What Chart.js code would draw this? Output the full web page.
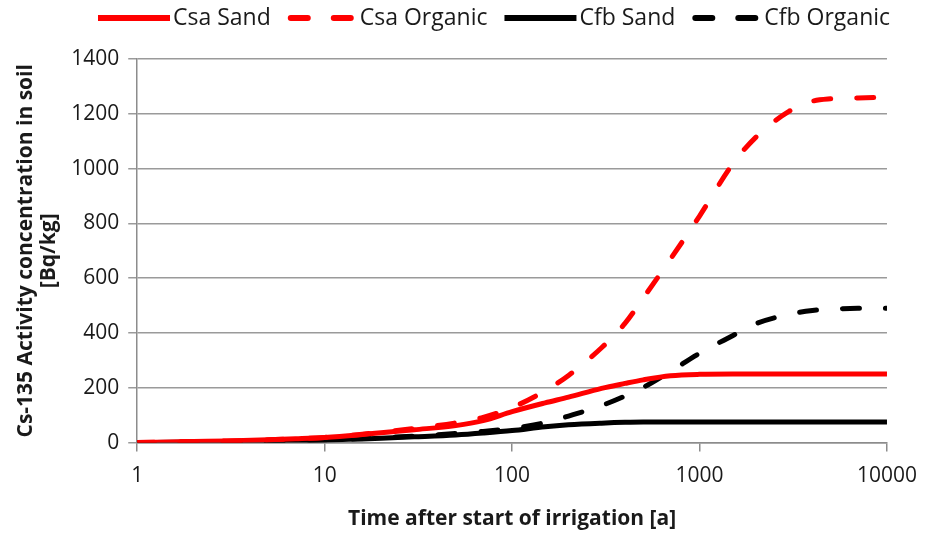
<!DOCTYPE html>
<html lang="en">
<head>
    <meta charset="UTF-8">
    <title>Cs-135 in soil</title>
    <script src="https://cdn.jsdelivr.net/npm/chart.js@4.4.0/dist/chart.umd.min.js"></script>
    <style>
        html, body { margin: 0; padding: 0; background: #fff; }
        #wrap { width: 929px; height: 533px; }
    </style>
</head>
<body>
    <div id="wrap"><canvas id="soilChart"></canvas></div>
<script>
    // time after start of irrigation [a]
    var years = [1, 2, 3, 5, 7, 10, 15, 20, 30, 50, 70, 100, 150, 200, 300, 400, 500, 700, 1000, 1500, 2000, 3000, 4000, 5000, 7000, 10000];

    // activity concentration [Bq/kg]
    var csaSand    = [0, 4, 6, 10, 14, 19, 28, 36, 47, 62, 80, 113, 145, 166, 198, 216, 229, 244, 249, 250, 250, 250, 250, 250, 250, 250];
    var csaOrganic = [0, 4, 6, 10, 14, 19, 29, 38, 52, 72, 92, 128, 189, 245, 346, 435, 527, 670, 827, 1016, 1115, 1209, 1246, 1255, 1258, 1260];
    var cfbSand    = [0, 2, 3, 5, 7, 9, 13, 16, 21, 28, 35, 44, 58, 65, 71, 74, 75, 75, 75, 75, 75, 75, 75, 75, 75, 75];
    var cfbOrganic = [0, 2, 3, 5, 7, 10, 14, 18, 24, 33, 41, 52, 73, 97, 135, 170, 201, 260, 326, 390, 434, 468, 482, 487, 490, 490];

    var xTicks = [1, 10, 100, 1000, 10000];

    function pts(vals) {
        return years.map(function (t, i) { return { x: t, y: vals[i] }; });
    }

    var dash = [17, 26];
    var font = "'Open Sans', 'DejaVu Sans', sans-serif";

    function series(label, vals, color, dashed) {
        return {
            label: label,
            data: pts(vals),
            borderColor: color,
            backgroundColor: color,
            borderWidth: 5,
            borderDash: dashed ? dash : [],
            borderCapStyle: dashed ? 'round' : 'butt',
            pointRadius: 0,
            cubicInterpolationMode: 'monotone',
            fill: false
        };
    }

    // legend row across the top: line sample, then its label
    const lineLegend = {
        id: 'lineLegend',
        afterDraw(chart) {
            const ctx = chart.ctx;
            const y = 18;
            let x = 98;
            ctx.save();
            ctx.font = '23px ' + font;
            ctx.textBaseline = 'middle';
            ctx.fillStyle = '#1a1a1a';
            chart.data.datasets.forEach(function (ds) {
                const dashed = ds.borderDash.length > 0;
                const w = dashed ? 66 : 72;
                ctx.strokeStyle = ds.borderColor;
                ctx.lineWidth = 6;
                ctx.setLineDash(ds.borderDash);
                ctx.lineCap = dashed ? 'round' : 'butt';
                ctx.beginPath();
                ctx.moveTo(x + (dashed ? 3 : 0), y);
                ctx.lineTo(x + w, y);
                ctx.stroke();
                ctx.setLineDash([]);
                const tx = x + w + (dashed ? 6 : 3);
                ctx.fillText(ds.label, tx, y);
                x = tx + ctx.measureText(ds.label).width + 17;
            });
            ctx.restore();
        }
    };

    const config = {
        type: 'line',
        data: {
            datasets: [
                series('Csa Sand', csaSand, '#ff0000', false),
                series('Csa Organic', csaOrganic, '#ff0000', true),
                series('Cfb Sand', cfbSand, '#000000', false),
                series('Cfb Organic', cfbOrganic, '#000000', true)
            ]
        },
        options: {
            responsive: true,
            maintainAspectRatio: false,
            animation: false,
            layout: { padding: { left: 14, right: 14, top: 59, bottom: 1 } },
            plugins: {
                tooltip: { enabled: false },
                legend: { display: false }
            },
            scales: {
                x: {
                    type: 'logarithmic',
                    min: 1,
                    max: 10000,
                    afterBuildTicks: function (scale) {
                        scale.ticks = xTicks.map(function (v) { return { value: v }; });
                    },
                    ticks: {
                        autoSkip: false,
                        maxRotation: 0,
                        color: '#1a1a1a',
                        padding: 12,
                        font: { family: font, size: 21 },
                        callback: function (v) { return String(v); }
                    },
                    grid: {
                        drawOnChartArea: false,
                        drawTicks: true,
                        tickLength: 9,
                        color: '#8c8c8c',
                        lineWidth: 1.5
                    },
                    border: { color: '#8c8c8c', width: 1.5 },
                    title: {
                        display: true,
                        text: 'Time after start of irrigation [a]',
                        color: '#1a1a1a',
                        font: { family: font, size: 21, weight: 'bold' },
                        padding: { top: 6, bottom: 0 }
                    }
                },
                y: {
                    min: 0,
                    max: 1400,
                    ticks: {
                        stepSize: 200,
                        color: '#1a1a1a',
                        padding: 9,
                        font: { family: font, size: 21 },
                        callback: function (v) { return String(v); }
                    },
                    grid: {
                        color: '#9a9a9a',
                        lineWidth: 1.5,
                        tickLength: 9
                    },
                    border: { color: '#8c8c8c', width: 1.5 },
                    title: {
                        display: true,
                        text: ['Cs-135 Activity concentration in soil', '[Bq/kg]'],
                        color: '#1a1a1a',
                        font: { family: font, size: 21, weight: 'bold', lineHeight: 1.1 },
                        padding: { top: 0, bottom: 2 }
                    }
                }
            }
        },
        plugins: [lineLegend]
    };

    const soilChart = new Chart(document.getElementById('soilChart'), config);
</script>
</body>
</html>
